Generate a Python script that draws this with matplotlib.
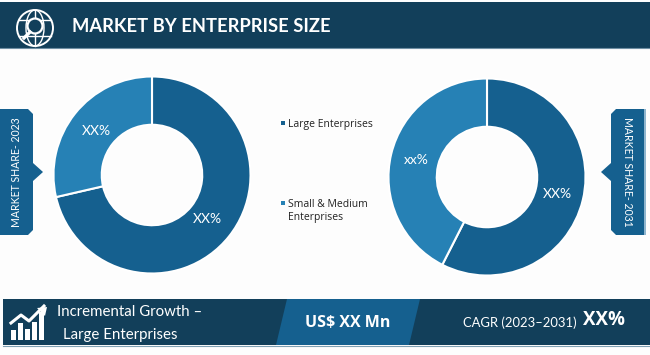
import matplotlib
matplotlib.use('Agg')
import matplotlib.pyplot as plt
from matplotlib.patches import Polygon, Rectangle, Circle, Ellipse

W, H = 650, 355
NAVY = '#123F5A'
DARK = '#15608F'
LIGHT = '#2681B5'
BG = '#FDFDFD'
NARROW = ['Lato', 'DejaVu Sans']
SANS = ['Open Sans', 'DejaVu Sans']

segments = ['Large Enterprises', 'Small & Medium\nEnterprises']
share_2023 = [71.4, 28.6]
share_2031 = [57.5, 42.5]
labels_2023 = ['XX%', 'XX%']
labels_2031 = ['XX%', 'xx%']
colors = [DARK, LIGHT]

fig = plt.figure(figsize=(W / 100, H / 100), dpi=100, facecolor=BG)
bg = fig.add_axes([0, 0, 1, 1])
bg.set_xlim(0, W); bg.set_ylim(H, 0)
bg.axis('off')


def donut(cx, cy, r, values, labels, dist):
    ax = fig.add_axes([(cx - r) / W, 1 - (cy + r) / H, 2 * r / W, 2 * r / H])
    ax.set_zorder(2)
    wedges, texts = ax.pie(values, colors=colors, radius=1, startangle=90, counterclock=False,
                           labels=labels, labeldistance=dist,
                           wedgeprops=dict(width=0.49, edgecolor='white', linewidth=1.5),
                           textprops=dict(color='white', fontsize=10, family=NARROW))
    for t in texts:
        t.set_ha('center'); t.set_va('center')
    ax.set_xlim(-1.01, 1.01); ax.set_ylim(-1.01, 1.01)


donut(152, 175, 99.5, share_2023, labels_2023, 0.72)
donut(487, 177, 99.5, share_2031, labels_2031, 0.74)

# bandeau du haut
bg.add_patch(Rectangle((0, 2), W, 46, color=NAVY, lw=0))
bg.plot([0, W], [48, 48], color='#6F8FA3', lw=0.8)
bg.text(72, 26, 'MARKET BY ENTERPRISE SIZE', color='white', fontsize=13.2, fontweight='bold',
        family=NARROW, va='center', ha='left')

# icone globe + loupe
bg.add_patch(Circle((35, 28), 18, fill=False, ec='white', lw=1.4))
bg.add_patch(Ellipse((35, 28), 18, 36, fill=False, ec='white', lw=1))
bg.plot([35, 35], [10, 46], color='white', lw=1)
bg.plot([19, 51], [20, 20], color='white', lw=1)
bg.plot([19, 51], [36, 36], color='white', lw=1)
bg.add_patch(Circle((35, 26), 7.5, fc=NAVY, ec='white', lw=1.6, zorder=3))
bg.plot([30, 24], [32, 38], color='white', lw=2.4, zorder=3)

# etiquettes laterales
bg.add_patch(Polygon([(0, 109), (28, 109), (33, 114), (33, 163), (43, 172), (33, 181),
                      (33, 230), (28, 235), (0, 235)], color=DARK, lw=0))
bg.text(17, 172, 'MARKET SHARE- 2023', color='white', fontsize=7.6, rotation=90,
        family=NARROW, ha='center', va='center')
bg.add_patch(Polygon([(644, 109), (616, 109), (611, 114), (611, 163), (601, 172), (611, 181),
                      (611, 230), (616, 235), (644, 235)], color=DARK, lw=0))
bg.add_patch(Rectangle((644, 109), 1.5, 126, color='#8FB5CE', lw=0))
bg.text(628, 172, 'MARKET SHARE- 2031', color='white', fontsize=7.6, rotation=270,
        family=NARROW, ha='center', va='center')

# legende
for y, seg, col, ty in zip([123, 203], segments, colors, [124, 211]):
    bg.add_patch(Rectangle((281, y - 2), 4, 4, color=col, lw=0))
    bg.text(288, ty, seg, color='#222222', fontsize=7.5, family=SANS, ha='left', va='center',
            linespacing=1.3)

# bandeau du bas
bg.add_patch(Rectangle((3, 299), W - 3, 46, color=NAVY, lw=0))
bg.plot([3, W], [345.5, 345.5], color='#7F9FB2', lw=0.8)
bg.add_patch(Polygon([(287, 299), (420, 299), (409, 345), (276, 345)], color=DARK, lw=0))
bg.text(57, 312, 'Incremental Growth \u2013', color='white', fontsize=10.8, family=NARROW,
        ha='left', va='center')
bg.text(63, 335, 'Large Enterprises', color='white', fontsize=10.8, family=NARROW,
        ha='left', va='center')
bg.text(348, 323, 'US$ XX Mn', color='white', fontsize=11.5, fontweight='bold', family=SANS,
        ha='center', va='center')
bg.text(463, 323, 'CAGR (2023\u20132031)', color='white', fontsize=9.4, family=NARROW,
        ha='left', va='center')
bg.text(583, 320, 'XX%', color='white', fontsize=13.5, fontweight='bold', family=SANS,
        ha='left', va='center')

# icone croissance
for x, top in zip([11, 18, 25, 32, 39], [330, 323, 329, 322, 312]):
    bg.add_patch(Rectangle((x, top), 5, 340 - top, color='white', lw=0))
bg.plot([11, 21, 29, 44], [323, 315, 321, 306], color='white', lw=2.2)
bg.add_patch(Polygon([(47, 307), (37, 308), (45, 316)], color='white', lw=0))

fig.savefig('out.png', dpi=100, facecolor=BG)
